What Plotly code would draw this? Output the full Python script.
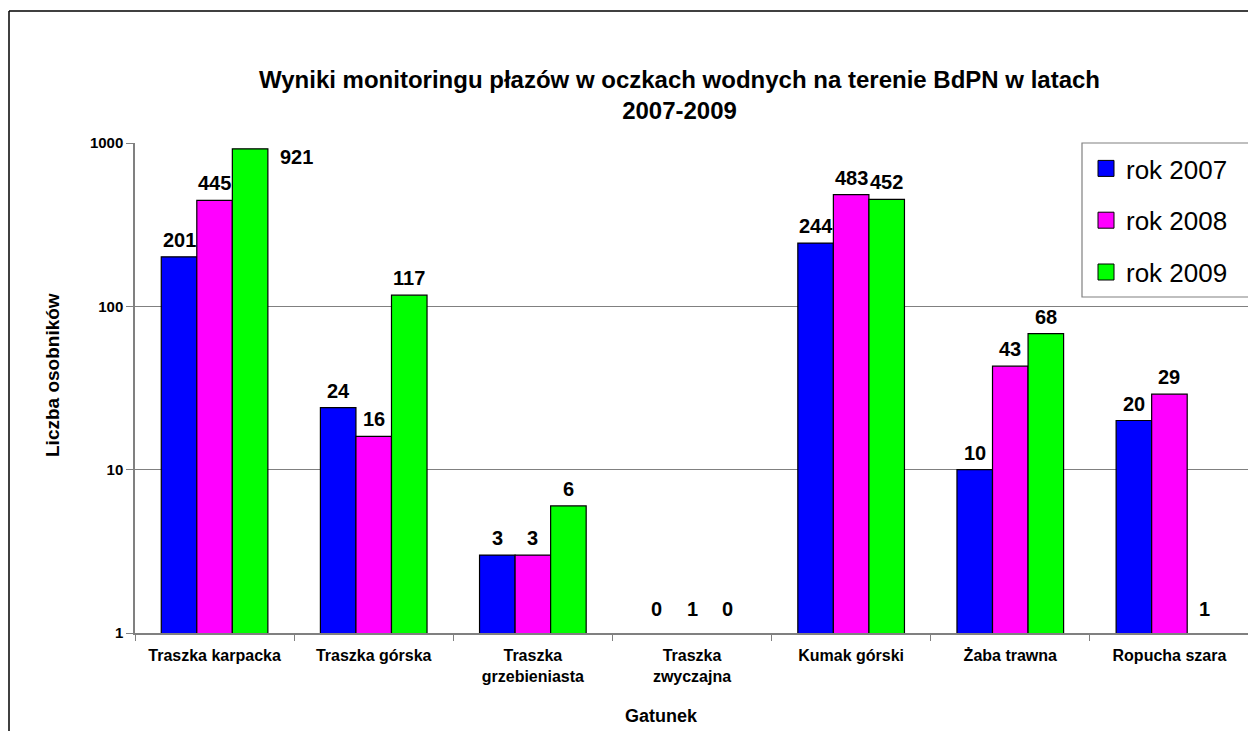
import numpy as np
import plotly.graph_objs as go

# data
species = ["Traszka karpacka", "Traszka górska", "Traszka<br>grzebieniasta",
           "Traszka<br>zwyczajna", "Kumak górski", "Żaba trawna", "Ropucha szara"]
years = ["rok 2007", "rok 2008", "rok 2009"]
y2007 = [201, 24, 3, 0, 244, 10, 20]
y2008 = [445, 16, 3, 1, 483, 43, 29]
y2009 = [921, 117, 6, 0, 452, 68, 1]
colors = ["#0000FF", "#FF00FF", "#00FF00"]

W, H = 1256, 731
OFF = 8  # page body margin
L, R, T, B = 127, 15, 135, 106
bargap = 0.33
font = "Liberation Sans, Arial, sans-serif"

pw = W - L - R
ph = H - T - B
def px(sx):
    return (sx - OFF - L) / pw
def py(sy):
    return (H - B - (sy - OFF)) / ph

fig = go.Figure()
series = [y2007, y2008, y2009]
for name, vals, col in zip(years, series, colors):
    fig.add_trace(go.Bar(
        x=species, y=[v if v > 1 else None for v in vals], name=name,
        showlegend=False,
        marker=dict(color=col, line=dict(color="black", width=1.2)),
        hoverinfo="x+y+name",
    ))
    # legend entry with a bigger square swatch
    fig.add_trace(go.Scatter(
        x=[None], y=[None], mode="markers", name=name, legendgroup=name,
        marker=dict(symbol="square", size=17, color=col,
                    line=dict(color="black", width=1)),
    ))

# value labels above the bars
bw = (1 - bargap) / 3
for j, vals in enumerate(series):
    for i, v in enumerate(vals):
        xpos = i + (j - 1) * bw
        ypos = np.log10(max(v, 1))
        lab = "<b>%d</b>" % v
        if ypos > 2.85:
            # no room above -> put it beside the bar
            fig.add_annotation(x=xpos + bw / 2, y=ypos, xref="x", yref="y",
                               text=lab, showarrow=False, xanchor="left",
                               yanchor="middle", xshift=10, yshift=-8,
                               font=dict(family=font, size=20, color="black"))
        else:
            fig.add_annotation(x=xpos, y=ypos, xref="x", yref="y",
                               text=lab, showarrow=False, yanchor="bottom",
                               yshift=11 if v <= 1 else 4,
                               font=dict(family=font, size=20, color="black"))

# outer chart border (left and top edges visible)
fig.add_shape(type="line", xref="paper", yref="paper",
              x0=px(9), x1=px(9), y0=py(11), y1=py(760),
              line=dict(color="black", width=1.5))
fig.add_shape(type="line", xref="paper", yref="paper",
              x0=px(9), x1=px(1280), y0=py(11), y1=py(11),
              line=dict(color="black", width=1.5))
# legend frame
fig.add_shape(type="rect", xref="paper", yref="paper", layer="above",
              x0=px(1082), x1=px(1251), y0=py(297), y1=py(143),
              fillcolor="white", line=dict(color="#808080", width=1.2))

fig.add_annotation(x=px(679), y=py(95), xref="paper", yref="paper",
                   text="<b>Wyniki monitoringu płazów w oczkach wodnych na terenie BdPN w latach<br>2007-2009</b>",
                   showarrow=False, xanchor="center", yanchor="middle",
                   font=dict(family=font, size=24, color="black"))
fig.add_annotation(x=px(661), y=py(716), xref="paper", yref="paper",
                   text="<b>Gatunek</b>", showarrow=False,
                   xanchor="center", yanchor="middle",
                   font=dict(family=font, size=18, color="black"))
fig.add_annotation(x=px(52), y=py(375), xref="paper", yref="paper",
                   text="<b>Liczba osobników</b>", showarrow=False, textangle=-90,
                   xanchor="center", yanchor="middle",
                   font=dict(family=font, size=19, color="black"))

fig.update_layout(
    width=W, height=H,
    margin=dict(l=L, r=R, t=T, b=B),
    paper_bgcolor="white", plot_bgcolor="white",
    barmode="group", bargap=bargap, bargroupgap=0,
    legend=dict(x=px(1086), y=py(145), xanchor="left", yanchor="top",
                borderwidth=0, bgcolor="rgba(0,0,0,0)",
                tracegroupgap=15,
                font=dict(family=font, size=26, color="black")),
    showlegend=True,
)
fig.update_xaxes(showline=True, linecolor="#808080", linewidth=1.5,
                 ticks="outside", ticklen=6, tickcolor="#808080",
                 tickson="boundaries", showgrid=False, ticklabelstandoff=7,
                 tickfont=dict(family=font, size=16, color="black"),
                 tickprefix="<b>", ticksuffix="</b>")
fig.update_yaxes(type="log", range=[0, 3], tickvals=[1, 10, 100, 1000],
                 ticktext=["<b>1</b>", "<b>10</b>", "<b>100</b>", "<b>1000</b>"],
                 showline=True, linecolor="#808080", linewidth=1.5,
                 ticks="outside", ticklen=7, tickcolor="#808080",
                 showgrid=True, gridcolor="#808080", gridwidth=1,
                 zeroline=False,
                 tickfont=dict(family=font, size=15, color="black"))

fig.write_html("out.html")
